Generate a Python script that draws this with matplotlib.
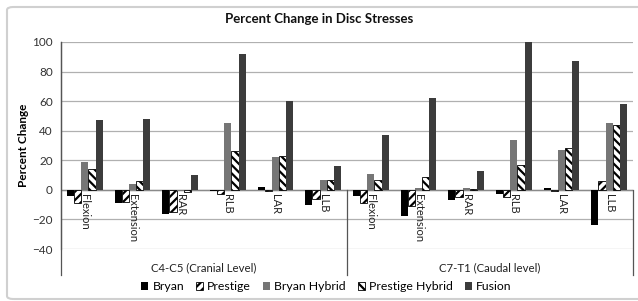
import matplotlib
matplotlib.use("Agg")
import matplotlib.pyplot as plt
import matplotlib.transforms as mtransforms
from matplotlib.patches import FancyBboxPatch
import numpy as np

plt.rcParams['font.family'] = ['Lato', 'DejaVu Sans']
plt.rcParams['hatch.linewidth'] = 1.6

categories = ["Flexion", "Extension", "RAR", "RLB", "LAR", "LLB"]
groups = ["C4-C5 (Cranial Level)", "C7-T1 (Caudal level)"]
series = ["Bryan", "Prestige", "Bryan Hybrid", "Prestige Hybrid", "Fusion"]

bryan = [-4, -9, -16, -0.5, 2, -10,
         -4, -18, -7, -3, 1, -24]
prestige = [-9, -8, -15, -3, -0.5, -6,
            -9, -11, -5, -5, -1, 6]
bryan_hybrid = [19, 4, -1, 45, 22, 7,
                11, 1, 1, 34, 27, 45]
prestige_hybrid = [14, 6, -1.5, 26, 23, 7,
                   7, 9, 0.5, 17, 28, 44]
fusion = [47, 48, 10, 92, 60, 16,
          37, 62, 13, 100, 87, 58]

values = [bryan, prestige, bryan_hybrid, prestige_hybrid, fusion]
facecolors = ["#000000", "#ffffff", "#767676", "#ffffff", "#3c3c3c"]
hatches = [None, "////", None, "\\\\\\\\", None]

fig = plt.figure(figsize=(6.38, 3.01), dpi=100)
fig.patch.set_facecolor("white")

# outer border
border = FancyBboxPatch((7 / 638, 2 / 301), 640 / 638, 292 / 301,
                        boxstyle="round,pad=0,rounding_size=0.01",
                        transform=fig.transFigure, facecolor="none",
                        edgecolor="#d0d0d0", linewidth=1.5, clip_on=False)
fig.patches.append(border)

ax = fig.add_axes([61 / 638, 1 - 249 / 301, 572 / 638, 207 / 301])
n = len(categories) * len(groups)
x = np.arange(n)
width = 0.15
for i, (vals, fc, h, name) in enumerate(zip(values, facecolors, hatches, series)):
    offs = (i - 2) * width
    ax.bar(x + offs, vals, width, color=fc, edgecolor="#000000" if h else fc,
           hatch=h, linewidth=0.6 if h else 0, label=name, zorder=3)

ax.set_xlim(-0.5, n - 0.5)
ax.set_ylim(-40, 100)
ax.set_yticks(np.arange(-40, 101, 20))
ax.tick_params(axis="y", length=0, labelsize=8.5, pad=6, colors="#333333")
ax.set_xticks([])
ax.grid(axis="y", color="#b0b0b0", linewidth=0.9, zorder=0)
for s in ["top", "right", "bottom"]:
    ax.spines[s].set_visible(False)
ax.spines["left"].set_color("#555555")
ax.spines["left"].set_linewidth(0.9)
ax.axhline(0, color="#8a8a8a", linewidth=1.0, zorder=2)

ax.set_ylabel("Percent Change", fontsize=8.5, fontweight="bold", labelpad=2)

# category labels
labels = categories * len(groups)
for xi, lab in zip(x, labels):
    ax.text(xi, -2.5, lab, rotation=-90, ha="center", va="top", fontsize=8,
            color="#222222", zorder=4)

# group separators and labels
trans = mtransforms.blended_transform_factory(ax.transData, ax.transAxes)
y0 = 40 / 140
ybot = -26 / 207
ax.plot([-0.5, -0.5], [ybot, 1], transform=trans, color="#555555", lw=0.9, clip_on=False)
for b in [5.5, 11.5]:
    ax.plot([b, b], [ybot, y0], transform=trans, color="#555555", lw=0.9, clip_on=False)
for gi, g in enumerate(groups):
    ax.text(gi * 6 + 2.5, -19 / 207, g, transform=trans, ha="center", va="center",
            fontsize=8.2, color="#222222")

fig.text(0.5, 1 - 19 / 301, "Percent Change in Disc Stresses", ha="center",
         va="center", fontsize=9.5, fontweight="bold", color="#111111")

handles, labs = ax.get_legend_handles_labels()
leg = fig.legend(handles, labs, loc="center", bbox_to_anchor=(0.512, 1 - 287 / 301),
                 ncol=5, frameon=False, fontsize=8.8, handlelength=0.55,
                 handleheight=0.55, handletextpad=0.35, columnspacing=1.0,
                 borderaxespad=0)

fig.savefig("out.png", dpi=100)
